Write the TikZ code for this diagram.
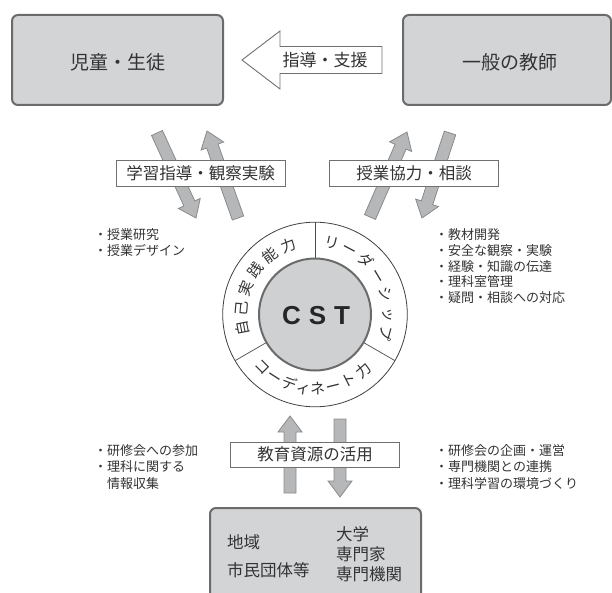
\documentclass[tikz,border=0pt]{standalone}
\usepackage{fontspec}
\newfontfamily\jp{Noto Sans CJK JP}
\newfontfamily\cstfont{Liberation Sans}
\usetikzlibrary{calc}
\definecolor{boxfill}{HTML}{D3D4D6}
\definecolor{boxline}{HTML}{6B6B6B}
\definecolor{arrfill}{HTML}{B6B7B9}
\definecolor{arrline}{HTML}{8A8A8A}
\definecolor{txt}{HTML}{333333}
\definecolor{lblline}{HTML}{707070}
\definecolor{cstfill}{HTML}{CFD0D2}
\tikzset{
 bigbox/.style={draw=boxline, fill=boxfill, line width=2pt, rounded corners=6pt, text=txt, font=\jp\fontsize{19}{22}\selectfont},
 lblbox/.style={draw=lblline, fill=white, line width=0.9pt, minimum width=169pt, minimum height=26pt, text=txt, font=\jp\fontsize{16.5}{20}\selectfont, inner sep=0pt},
 barrow/.style={draw=arrline, fill=arrfill, line width=0.8pt, line join=miter},
 listtext/.style={anchor=base west, text=txt, font=\jp\fontsize{13}{15.5}\selectfont, inner sep=0pt},
 boxtext/.style={anchor=base west, text=txt, font=\jp\fontsize{16.5}{20}\selectfont, inner sep=0pt},
 ringch/.style={text=txt, font=\jp\fontsize{15}{15}\selectfont, inner sep=0pt, text height=13.2pt, text depth=1.8pt},
}
\newcommand\blockarrow[2]{%
 \coordinate (bS) at ($(#2)!16pt!(#1)$);
 \draw[barrow] ($(#1)!6pt!90:(#2)$) -- ($(bS)!6pt!-90:(#1)$) -- ($(bS)!12pt!-90:(#1)$) -- (#2) -- ($(bS)!12pt!90:(#1)$) -- ($(bS)!6pt!90:(#1)$) -- ($(#1)!6pt!-90:(#2)$) -- cycle;}
% outward ring character (reading clockwise)
\newcommand\rout[3]{\node[ringch, rotate=#2-90] (#1) at ($(cc)+(#2:74pt)$) {#3};}
% inward ring character (bottom, reading left to right)
\newcommand\rin[3]{\node[ringch, rotate=#2+90] (#1) at ($(cc)+(#2:74pt)$) {#3};}
\begin{document}
\begin{tikzpicture}[x=1pt, y=-1pt]
\useasboundingbox (0,0) rectangle (612,593);
\clip (0,0) rectangle (612,593);

% top boxes
\node[bigbox, minimum width=211pt, minimum height=90pt] (child) at (117.5,60) {};
\node[text=txt, font=\jp\fontsize{19}{22}\selectfont, inner sep=0pt] (childt) at (118,62.5) {児童・生徒};
\node[bigbox, minimum width=208pt, minimum height=90pt] (teach) at (507,60) {};
\node[text=txt, font=\jp\fontsize{19}{22}\selectfont, inner sep=0pt] (teacht) at (510,62.5) {一般の教師};

% top white arrow
\draw[draw=lblline, fill=white, line width=0.9pt, line join=miter]
  (382,46.5) -- (280,46.5) -- (280,31) -- (242,60) -- (280,89) -- (280,73.5) -- (382,73.5) -- cycle;
\node[text=txt, font=\jp\fontsize{17}{20}\selectfont, inner sep=0pt] (shido) at (325,60) {指導・支援};

% block arrows
\coordinate (ld1) at (157,133); \coordinate (ld2) at (196,218);
\coordinate (lu1) at (238,218); \coordinate (lu2) at (207,131);
\coordinate (ru1) at (370,217); \coordinate (ru2) at (407,132);
\coordinate (rd1) at (450,133); \coordinate (rd2) at (422,218);
\coordinate (bu1) at (290,493); \coordinate (bu2) at (290,416);
\coordinate (bd1) at (340,419); \coordinate (bd2) at (340,497);
\blockarrow{ld1}{ld2}
\blockarrow{lu1}{lu2}
\blockarrow{ru1}{ru2}
\blockarrow{rd1}{rd2}
\blockarrow{bu1}{bu2}
\blockarrow{bd1}{bd2}

% label boxes
\node[lblbox] (lab1) at (200.5,173) {学習指導・観察実験};
\node[lblbox] (lab2) at (414,173) {授業協力・相談};
\node[lblbox, minimum height=25pt] (lab3) at (315,454.5) {教育資源の活用};

% circle
\coordinate (cc) at (315,314.5);
\draw[draw=black!75, line width=0.8pt, fill=white] (cc) circle[radius=92.3pt];
\draw[draw=black!70, line width=0.7pt] ($(cc)+(90:56pt)$) -- ($(cc)+(90:92pt)$);
\draw[draw=black!70, line width=0.7pt] ($(cc)+(210:56pt)$) -- ($(cc)+(210:92pt)$);
\draw[draw=black!70, line width=0.7pt] ($(cc)+(330:56pt)$) -- ($(cc)+(330:92pt)$);
\node[circle, draw=boxline, fill=cstfill, line width=2pt, minimum size=112pt, inner sep=0pt] (cst) at (cc) {};
\node[text=black!85, font=\cstfont\bfseries\fontsize{26}{28}\selectfont, inner sep=0pt] (cstt) at (316,316) {C\hspace{8pt}S\hspace{8pt}T};

% ring texts
\rout{a1}{191}{自}
\rout{a2}{175}{己}
\rout{a3}{159}{実}
\rout{a4}{143}{践}
\rout{a5}{127}{能}
\rout{a6}{111}{力}
\rout{b1}{77}{リ}
\rout{b2}{62}{ー}
\rout{b3}{47}{ダ}
\rout{b4}{31}{ー}
\rout{b5}{16}{シ}
\rout{b6}{0}{ッ}
\rout{b7}{-15}{プ}
\rin{c1}{225}{コ}
\rin{c2}{237.5}{ー}
\rin{c3}{250}{デ}
\rin{c4}{261}{ィ}
\rin{c5}{272}{ネ}
\rin{c6}{284}{ー}
\rin{c7}{297}{ト}
\rin{c8}{311}{力}

% lists (one node per line, baselines given)
\node[listtext] (l1a) at (94,240) {・授業研究};
\node[listtext] (l1b) at (94,255.5) {・授業デザイン};
\node[listtext] (l2a) at (435,240) {・教材開発};
\node[listtext] (l2b) at (435,255.5) {・安全な観察・実験};
\node[listtext] (l2c) at (435,271) {・経験・知識の伝達};
\node[listtext] (l2d) at (435,286.5) {・理科室管理};
\node[listtext] (l2e) at (435,302) {・疑問・相談への対応};
\node[listtext] (l3a) at (94,455) {・研修会への参加};
\node[listtext] (l3b) at (94,471.5) {・理科に関する};
\node[listtext] (l3c) at (107,488) {情報収集};
\node[listtext] (l4a) at (435,455) {・研修会の企画・運営};
\node[listtext] (l4b) at (435,471.5) {・専門機関との連携};
\node[listtext] (l4c) at (435,488) {・理科学習の環境づくり};

% bottom box
\node[bigbox, minimum width=211pt, minimum height=94pt] (res) at (315.5,555) {};
\node[boxtext] (t1) at (227,548.3) {地域};
\node[boxtext] (t2) at (227,576.3) {市民団体等};
\node[boxtext] (t3) at (336,540.3) {大学};
\node[boxtext] (t4) at (336,560.3) {専門家};
\node[boxtext] (t5) at (336,580.3) {専門機関};
\end{tikzpicture}
\end{document}
